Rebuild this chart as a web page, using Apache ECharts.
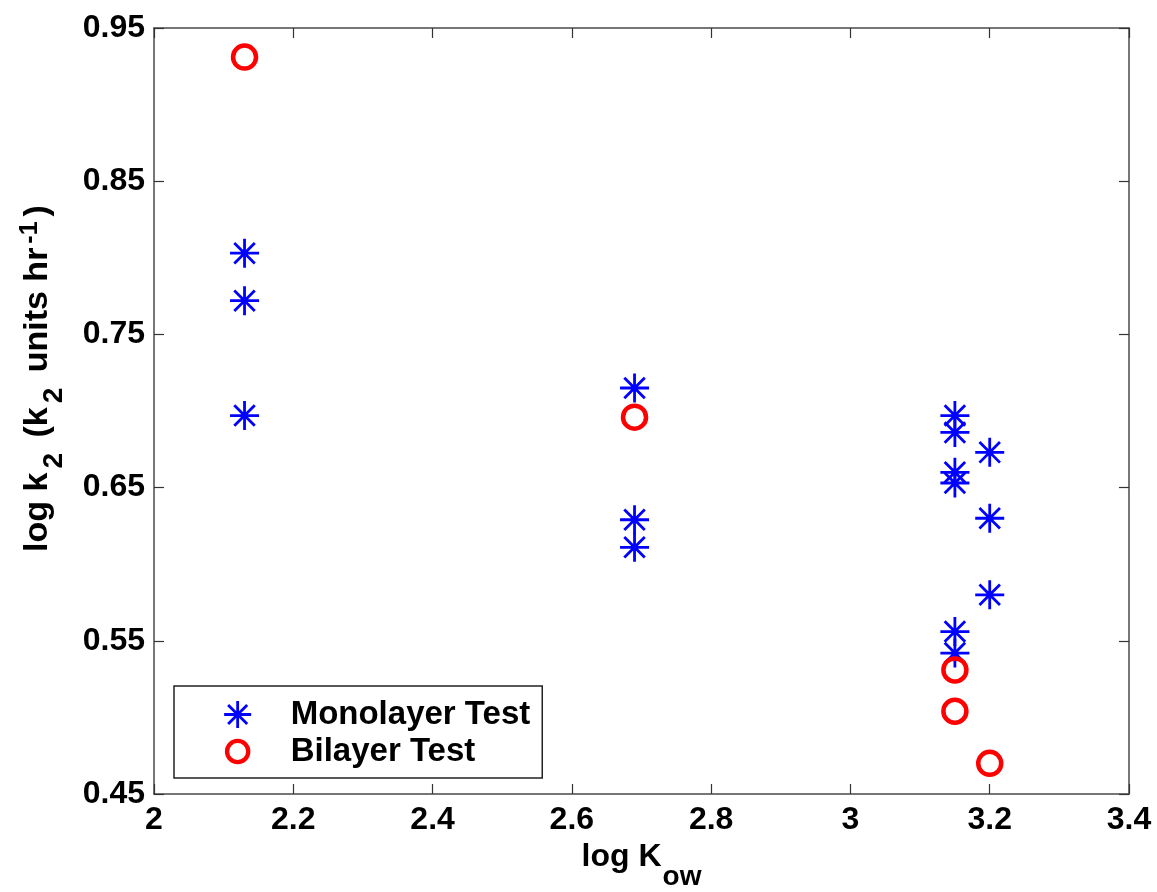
<!DOCTYPE html>
<html>
<head>
<meta charset="utf-8">
<script src="https://cdn.jsdelivr.net/npm/echarts@6/dist/echarts.min.js"></script>
<style>
  html, body { margin: 0; padding: 0; background: #fff; }
  #chart { width: 1157px; height: 892px; }
</style>
</head>
<body>
<div id="chart"></div>
<script>
// Monolayer test: log Kow and log k2 per measurement
const monolayerLogKow = [2.13, 2.13, 2.13, 2.69, 2.69, 2.69, 3.15, 3.15, 3.15, 3.15, 3.15, 3.15, 3.20, 3.20, 3.20];
const monolayerLogK2  = [0.803, 0.772, 0.697, 0.715, 0.629, 0.611, 0.697, 0.686, 0.660, 0.653, 0.556, 0.542, 0.673, 0.630, 0.580];

// Bilayer test
const bilayerLogKow = [2.13, 2.69, 3.15, 3.15, 3.20];
const bilayerLogK2  = [0.931, 0.696, 0.531, 0.504, 0.470];

const seriesNames = ['Monolayer Test', 'Bilayer Test'];

// Axis ranges and tick spacing
const xRange = [2, 3.4], xStep = 0.2;
const yRange = [0.45, 0.95], yStep = 0.1;

const FONT = "'Liberation Sans', Arial, Helvetica, sans-serif";
const zip = (xs, ys) => xs.map((x, i) => [x, ys[i]]);

// asterisk marker: plus + cross
const asterisk = 'path://M0,-10L0,10M-10,0L10,0M-7.07,-7.07L7.07,7.07M-7.07,7.07L7.07,-7.07';
// legend ring: a circle inset in a slightly larger box so it sits a bit smaller than the asterisk
const legendRing = 'path://M-14,-14M14,14M-11,0A11,11 0 1,1 11,0A11,11 0 1,1 -11,0Z';

const BLUE = '#0000ff', RED = '#ff0000';
const starStyle = { color: BLUE, borderColor: BLUE, borderWidth: 2.8, opacity: 1 };
const ringStyle = { color: 'rgba(255,255,255,0)', borderColor: RED, borderWidth: 4.5, opacity: 1 };

const axisLine = { show: true, onZero: false, lineStyle: { color: '#4a4a4a', width: 1.5 } };
const axisTick = { show: true, inside: true, length: 10, lineStyle: { color: '#333', width: 1.2 } };
const labelFont = { fontFamily: FONT, fontSize: 32, fontWeight: 'bold', color: '#000' };

const chart = echarts.init(document.getElementById('chart'), null, { renderer: 'canvas' });

chart.setOption({
  animation: false,
  backgroundColor: '#fff',
  grid: { left: 154, right: 28, top: 28, bottom: 98, containLabel: false, outerBoundsMode: 'none' },
  xAxis: [
    {
      type: 'value', position: 'bottom',
      min: xRange[0], max: xRange[1], interval: xStep,
      axisLine, axisTick, splitLine: { show: false },
      axisLabel: Object.assign({ margin: 10, formatter: v => String(parseFloat(v.toFixed(2))) }, labelFont),
      name: 'log K{s|ow}', nameLocation: 'middle', nameGap: 20,
      nameTextStyle: Object.assign({}, labelFont, {
        rich: { s: { fontFamily: FONT, fontSize: 28, fontWeight: 'bold', color: '#000', padding: [40, 0, 0, 1] } }
      })
    },
    {
      type: 'value', position: 'top',
      min: xRange[0], max: xRange[1], interval: xStep,
      axisLine, axisTick, axisLabel: { show: false }, splitLine: { show: false }
    }
  ],
  yAxis: [
    {
      type: 'value', position: 'left',
      min: yRange[0], max: yRange[1], interval: yStep,
      axisLine, axisTick, splitLine: { show: false },
      axisLabel: Object.assign({ margin: 9, formatter: v => v.toFixed(2) }, labelFont),
      name: 'log k{s|2} (k{s|2} units hr{p|-1})', nameLocation: 'middle', nameGap: 86,
      nameTextStyle: Object.assign({}, labelFont, {
        fontSize: 34,
        padding: [0, 0, 0, 65],
        rich: {
          s: { fontFamily: FONT, fontSize: 28, fontWeight: 'bold', color: '#000', padding: [32, 6, 0, 4] },
          p: { fontFamily: FONT, fontSize: 25, fontWeight: 'bold', color: '#000', padding: [0, 5, 16, 4] }
        }
      })
    },
    {
      type: 'value', position: 'right',
      min: yRange[0], max: yRange[1], interval: yStep,
      axisLine, axisTick, axisLabel: { show: false }, splitLine: { show: false }
    }
  ],
  legend: {
    orient: 'vertical', left: 174, top: 686,
    backgroundColor: '#fff', borderColor: '#222', borderWidth: 1.5, borderRadius: 0,
    padding: [12, 12, 10, 48],
    itemWidth: 30, itemHeight: 27, itemGap: 4,
    selectedMode: false,
    textStyle: Object.assign({}, labelFont, { fontSize: 33, padding: [0, 0, 0, 33] }),
    data: [
      { name: seriesNames[0], itemStyle: starStyle },
      { name: seriesNames[1], icon: legendRing, itemStyle: Object.assign({}, ringStyle, { borderWidth: 4.3 }) }
    ]
  },
  series: [
    {
      name: seriesNames[0], type: 'scatter',
      data: zip(monolayerLogKow, monolayerLogK2),
      symbol: asterisk, symbolSize: 29, symbolKeepAspect: true,
      itemStyle: starStyle,
      emphasis: { disabled: true }, z: 3
    },
    {
      name: seriesNames[1], type: 'scatter',
      data: zip(bilayerLogKow, bilayerLogK2),
      symbol: 'circle', symbolSize: 23,
      itemStyle: ringStyle,
      emphasis: { disabled: true }, z: 4
    }
  ]
});
</script>
</body>
</html>
